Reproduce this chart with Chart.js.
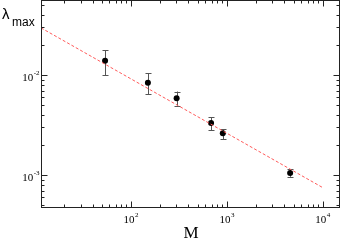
<!DOCTYPE html>
<html>
<head>
<meta charset="utf-8">
<script src="https://cdn.jsdelivr.net/npm/chart.js@4.4.1/dist/chart.umd.min.js"></script>
<style>
  html, body { margin: 0; padding: 0; background: #fff; }
  #wrap { width: 341px; height: 240px; }
</style>
</head>
<body>
<div id="wrap"><canvas id="chart" width="341" height="240"></canvas></div>
<script>
// data
const mValues = [54, 151, 301, 688, 912, 4590];
const lambdaValues = [0.0139, 0.00837, 0.00588, 0.00332, 0.00262, 0.001054];
const errHigh = [0.01766, 0.01038, 0.00685, 0.00379, 0.00289, 0.00114];
const errLow = [0.0100, 0.00645, 0.00495, 0.00282, 0.00230, 0.000962];

// dashed power-law fit
const fitM = [11.6, 10000];
const fitLambda = [0.0296, 0.000753];

// axis ranges and labelled decades
const xRange = [11.6, 15200];
const yRange = [0.00047, 0.0562];
const xTickExp = [2, 3, 4];
const yTickExp = [-3, -2];

// draw ticks (pointing inward), frame, labels and error bars
const framePlugin = {
    id: 'frame',
    beforeDatasetsDraw(chart) {
        const ctx = chart.ctx;
        const xs = chart.scales.x, ys = chart.scales.y;
        ctx.save();
        ctx.strokeStyle = '#555';
        ctx.lineWidth = 1;
        mValues.forEach((m, i) => {
            const px = Math.round(xs.getPixelForValue(m)) + 0.5;
            const top = ys.getPixelForValue(errHigh[i]);
            const bot = ys.getPixelForValue(errLow[i]);
            ctx.beginPath();
            ctx.moveTo(px, top); ctx.lineTo(px, bot);
            ctx.moveTo(px - 3, Math.round(top) + 0.5); ctx.lineTo(px + 3, Math.round(top) + 0.5);
            ctx.moveTo(px - 3, Math.round(bot) + 0.5); ctx.lineTo(px + 3, Math.round(bot) + 0.5);
            ctx.stroke();
        });
        ctx.restore();
    },
    afterDraw(chart) {
        const ctx = chart.ctx;
        const a = chart.chartArea;
        const xs = chart.scales.x, ys = chart.scales.y;
        ctx.save();
        ctx.strokeStyle = '#222';
        ctx.lineWidth = 1;
        const L = Math.round(a.left) + 0.5, R = Math.round(a.right) - 0.5;
        const T = Math.round(a.top) + 0.5, B = Math.round(a.bottom) - 0.5;
        ctx.strokeRect(L, T, R - L, B - T);

        ctx.beginPath();
        // x ticks, top and bottom
        for (let e = 1; e <= 4; e++) {
            for (let k = 1; k <= 9; k++) {
                const v = k * Math.pow(10, e);
                if (v < xRange[0] || v > xRange[1]) continue;
                const px = Math.round(xs.getPixelForValue(v)) + 0.5;
                const len = k === 1 ? 6 : 3;
                ctx.moveTo(px, B); ctx.lineTo(px, B - len);
                ctx.moveTo(px, T); ctx.lineTo(px, T + len);
            }
        }
        // y ticks, left and right
        for (let e = -4; e <= -2; e++) {
            for (let k = 1; k <= 9; k++) {
                const v = k * Math.pow(10, e);
                if (v < yRange[0] || v > yRange[1]) continue;
                const py = Math.round(ys.getPixelForValue(v)) + 0.5;
                const len = k === 1 ? 6 : 3;
                ctx.moveTo(L, py); ctx.lineTo(L + len, py);
                ctx.moveTo(R, py); ctx.lineTo(R - len, py);
            }
        }
        ctx.stroke();

        ctx.fillStyle = '#000';
        ctx.textBaseline = 'alphabetic';
        const big = '11px "Liberation Serif", serif';
        const small = '7px "Liberation Serif", serif';

        // x tick labels
        xTickExp.forEach(e => {
            const px = xs.getPixelForValue(Math.pow(10, e));
            ctx.font = big;
            const w1 = ctx.measureText('10').width;
            ctx.font = small;
            const w2 = ctx.measureText(String(e)).width;
            const x0 = px - (w1 + w2) / 2;
            ctx.font = big;
            ctx.textAlign = 'left';
            ctx.fillText('10', x0, 223);
            ctx.font = small;
            ctx.fillText(String(e), x0 + w1 + 0.5, 217);
        });

        // y tick labels
        yTickExp.forEach(e => {
            const py = ys.getPixelForValue(Math.pow(10, e));
            ctx.font = small;
            const w2 = ctx.measureText(String(e)).width;
            ctx.font = big;
            const w1 = ctx.measureText('10').width;
            const x0 = 39 - w2 - w1;
            ctx.textAlign = 'left';
            ctx.fillText('10', x0, py + 6);
            ctx.font = small;
            ctx.fillText(String(e), x0 + w1 + 0.5, py);
        });

        // axis titles
        ctx.font = '17px "Liberation Serif", serif';
        ctx.textAlign = 'center';
        ctx.fillText('M', 191, 238);

        ctx.textAlign = 'left';
        ctx.font = '15px "Liberation Sans", sans-serif';
        ctx.fillText('\u03bb', 2, 19);
        ctx.font = '12px "Liberation Sans", sans-serif';
        ctx.fillText('max', 12, 26);
        ctx.restore();
    }
};

new Chart(document.getElementById('chart'), {
    type: 'scatter',
    data: {
        datasets: [
            {
                label: 'fit',
                data: fitM.map((m, i) => ({ x: m, y: fitLambda[i] })),
                showLine: true,
                borderColor: '#ff5a5a',
                borderWidth: 1,
                borderDash: [3, 2],
                pointRadius: 0,
                fill: false
            },
            {
                label: 'lambda',
                data: mValues.map((m, i) => ({ x: m, y: lambdaValues[i] })),
                backgroundColor: '#000',
                borderColor: '#000',
                pointRadius: 3,
                borderWidth: 0
            }
        ]
    },
    options: {
        responsive: false,
        animation: false,
        events: [],
        layout: { autoPadding: false, padding: { left: 41, right: 1, top: 0, bottom: 32 } },
        plugins: {
            legend: { display: false },
            tooltip: { enabled: false }
        },
        scales: {
            x: {
                type: 'logarithmic',
                min: xRange[0],
                max: xRange[1],
                afterFit: s => { s.height = 0; },
                ticks: { display: false },
                grid: { display: false },
                border: { display: false }
            },
            y: {
                type: 'logarithmic',
                min: yRange[0],
                max: yRange[1],
                afterFit: s => { s.width = 0; },
                ticks: { display: false },
                grid: { display: false },
                border: { display: false }
            }
        }
    },
    plugins: [framePlugin]
});
</script>
</body>
</html>
